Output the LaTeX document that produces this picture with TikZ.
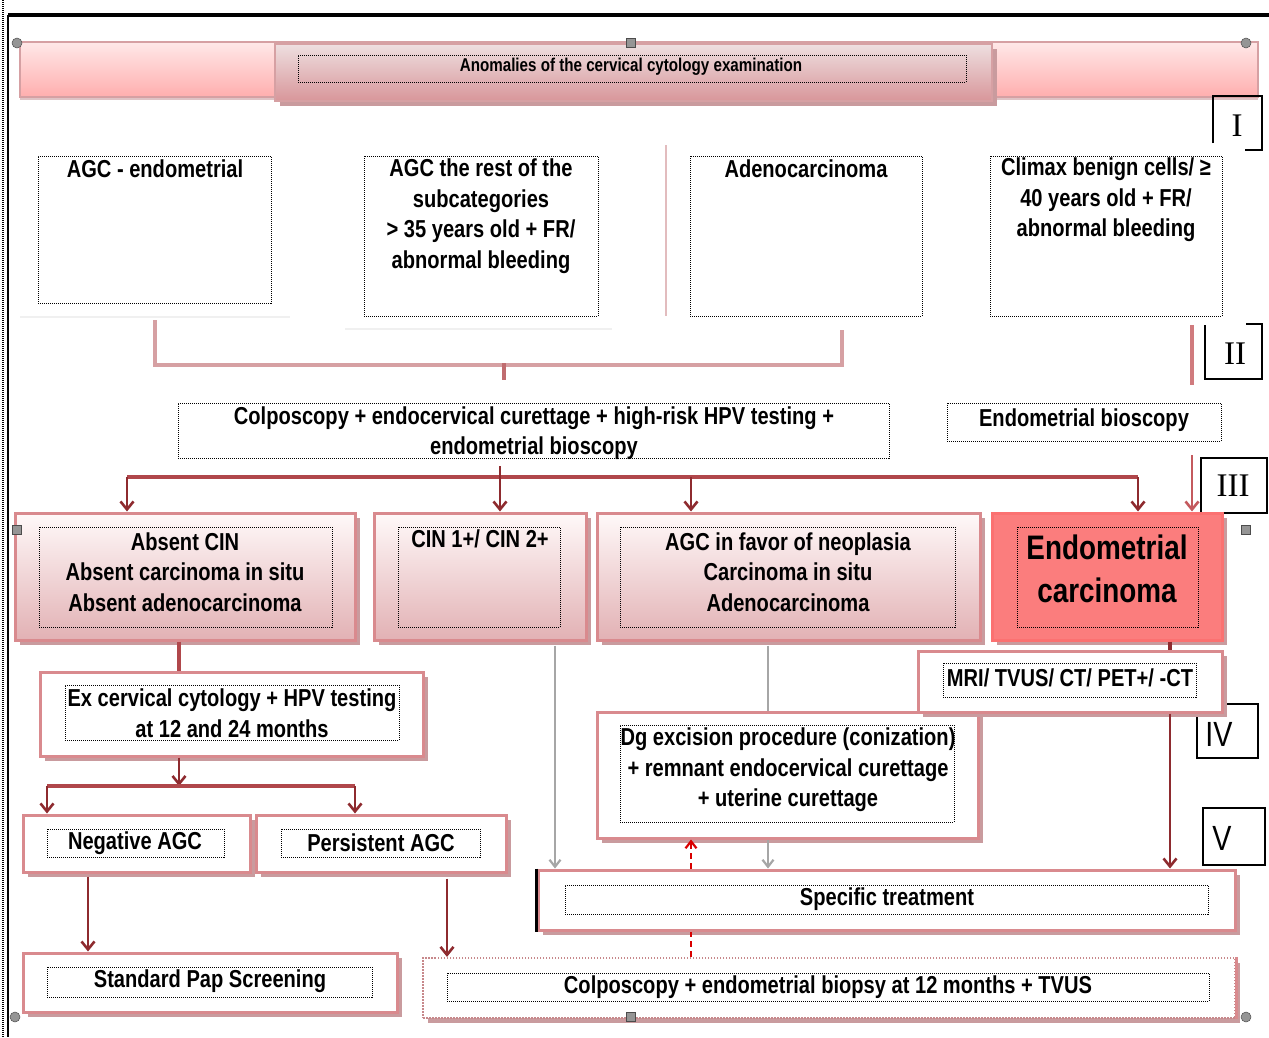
\documentclass[tikz,border=0pt]{standalone}
\usepackage{fontspec}
\setmainfont{Liberation Sans}
\newfontfamily\nf[FakeStretch=0.82]{Liberation Sans}
\newfontfamily\romf{Liberation Serif}
\usetikzlibrary{arrows.meta,fit}
\definecolor{dred}{HTML}{8E2B2F}
\definecolor{hred}{HTML}{B0474B}
\definecolor{lred}{HTML}{C45A5E}
\definecolor{bordc}{HTML}{D98A8E}
\definecolor{pinkl}{HTML}{D6A0A3}
\definecolor{shadc}{HTML}{C99B9E}
\definecolor{gtop}{HTML}{FFF9F9}
\definecolor{gbot}{HTML}{E2B1B4}
\definecolor{carc}{HTML}{FB7D7D}
\definecolor{handc}{HTML}{959595}
\definecolor{btop}{HTML}{FFE8E8}
\definecolor{bbot}{HTML}{FFAEAE}
\definecolor{mtop}{HTML}{EEDFE0}
\definecolor{mbot}{HTML}{D8969A}
\newcommand\ftA{\nf\bfseries\fontsize{24.5}{30.5}\selectfont}
\newcommand\ftH{\nf\bfseries\fontsize{18.5}{20}\selectfont}
\newcommand\ftC{\nf\bfseries\fontsize{34}{43}\selectfont}
\tikzset{
  x=1pt, y=-1pt,
  txt/.style={font=\ftA, align=center, inner sep=0pt, text=black},
  dotbox/.style={draw=black, dash pattern=on 1pt off 1pt, line width=1pt, inner sep=0pt},
  shad/.style={preaction={draw=none, fill=shadc, transform canvas={xshift=5pt, yshift=-5pt}}},
  pbox/.style={shad, draw=bordc, line width=3pt, top color=gtop, bottom color=gbot, inner sep=0pt},
  wbox/.style={shad, draw=bordc, line width=3pt, fill=white, inner sep=0pt},
  cbox/.style={shad, draw=carc!90!red, line width=3pt, fill=carc, inner sep=0pt},
  rline/.style={draw=hred, line width=3.6pt},
  rarr/.style={draw=dred, line width=2.6pt, -{Straight Barb[length=8pt,width=13pt,line width=2.6pt]}},
  garr/.style={draw=gray!70, line width=2.4pt, -{Straight Barb[length=7pt,width=11pt,line width=2.2pt]}},
  gline/.style={draw=gray!70, line width=2.4pt},
  darr/.style={draw=red!85!black, line width=2.6pt, dash pattern=on 6pt off 4pt},
  pline/.style={draw=pinkl, line width=3.4pt},
  hcirc/.style={circle, fill=handc, draw=gray!60!black, line width=0.5pt, minimum size=10pt, inner sep=0pt},
  hsq/.style={rectangle, fill=handc, draw=gray!60!black, line width=0.5pt, minimum size=9pt, inner sep=0pt},
  numbox/.style={draw=black, line width=2.2pt},
}
\begin{document}
\begin{tikzpicture}
\useasboundingbox (0,0) rectangle (1269,1037);
% outer frame
\draw[black, line width=3.8pt] (8,15) -- (1269,15);
\draw[black, line width=2.8pt] (8,15) -- (8,1037);
\draw[black, dash pattern=on 1pt off 1pt, line width=1.2pt] (3,0) -- (3,1037);

% header banner
\node[fit={(20,42)(1258,97)}, inner sep=0pt, preaction={draw=none, fill=shadc!60, transform canvas={yshift=-3pt}},
      draw=pinkl, line width=2.5pt, top color=btop, bottom color=bbot] (banner) {};
\node[fit={(275,44)(992,101)}, inner sep=0pt, shad, draw=pinkl, line width=2.5pt,
      top color=mtop, bottom color=mbot] (hmid) {};
\node[fit={(298,55)(966,82)}, dotbox] (hin) {};
\node[font=\ftH, inner sep=0pt] (htxt) at (631,67) {Anomalies of the cervical cytology examination};

% roman numerals
\draw[numbox] (1213,143) -- (1213,96) -- (1262,96) -- (1262,150) -- (1245,150);
\node[font=\romf\fontsize{33}{33}\selectfont, inner sep=0pt] (nI) at (1237,126) {I};
\draw[numbox] (1246,324) -- (1262,324) -- (1262,379) -- (1205,379) -- (1205,325);
\node[font=\romf\fontsize{33}{33}\selectfont, inner sep=0pt] (nII) at (1235,354) {II};
\node[numbox, fit={(1201,458)(1267,513)}, inner sep=0pt] (bIII) {};
\node[font=\romf\fontsize{33}{33}\selectfont, inner sep=0pt] (nIII) at (1233,486) {III};
\node[numbox, fit={(1197,704)(1258,758)}, inner sep=0pt] (bIV) {};
\node[font=\nf\fontsize{35}{35}\selectfont, inner sep=0pt] (nIV) at (1219,734) {IV};
\node[numbox, fit={(1203,808)(1265,865)}, inner sep=0pt] (bV) {};
\node[font=\nf\fontsize{35}{35}\selectfont, inner sep=0pt] (nV) at (1222,838) {V};

% top row
\node[fit={(38,156)(271,303)}, dotbox] (b1) {};
\node[txt, anchor=north] (t1) at (155,160) {AGC - endometrial};
\node[fit={(364,156)(598,316)}, dotbox] (b2) {};
\node[txt, anchor=north] (t2) at (481,159) {AGC the rest of the\\subcategories\\> 35 years old + FR/\\abnormal bleeding};
\node[fit={(690,156)(922,316)}, dotbox] (b3) {};
\node[txt, anchor=north] (t3) at (806,160) {Adenocarcinoma};
\node[fit={(990,156)(1222,316)}, dotbox] (b4) {};
\node[txt, anchor=north] (t4) at (1106,158) {Climax benign cells/ ≥\\40 years old + FR/\\abnormal bleeding};
\draw[gray!12, line width=1.5pt] (20,317) -- (290,317);
\draw[gray!12, line width=1.5pt] (345,329) -- (612,329);
\draw[pinkl!70, line width=1.8pt] (666,145) -- (666,316);

% pink bracket
\coordinate (k1) at (155,320);
\coordinate (k2) at (842,330);
\coordinate (k3) at (504,363);
\coordinate (k4) at (504,380);
\draw[pline] (k1) -- (155,365) -- (842,365) -- (k2);
\draw[pline, draw=hred!80] (k3) -- (k4);
\coordinate (k5) at (1192,325);
\coordinate (k6) at (1192,385);
\draw[pline, draw=lred!80] (k5) -- (k6);

% second row
\node[fit={(178,403)(889,458)}, dotbox] (colpo) {};
\node[txt] (tcolpo) at (534,433) {Colposcopy + endocervical curettage + high-risk HPV testing +\\endometrial bioscopy};
\node[fit={(947,403)(1221,441)}, dotbox] (endob) {};
\node[txt] (tendob) at (1084,420) {Endometrial bioscopy};

% result row
\node[fit={(15,513)(355,640)}, pbox] (r1) {};
\node[fit={(39,527)(332,627)}, dotbox] (r1i) {};
\node[txt] (tr1) at (185,572) {Absent CIN\\Absent carcinoma in situ\\Absent adenocarcinoma};
\node[fit={(374,513)(586,640)}, pbox] (r2) {};
\node[fit={(398,527)(560,627)}, dotbox] (r2i) {};
\node[txt, anchor=north] (tr2) at (480,530) {CIN 1+/ CIN 2+};
\node[fit={(597,513)(980,640)}, pbox] (r3) {};
\node[fit={(620,527)(955,627)}, dotbox] (r3i) {};
\node[txt] (tr3) at (788,572) {AGC in favor of neoplasia\\Carcinoma in situ\\Adenocarcinoma};
\node[fit={(992,513)(1222,640)}, cbox] (r4) {};
\node[fit={(1017,527)(1198,627)}, dotbox] (r4i) {};
\node[txt, font=\ftC] (tr4) at (1107,569) {Endometrial\\carcinoma};

% red arrows from colposcopy
\coordinate (h0) at (127,477);
\coordinate (h1) at (1138,477);
\draw[rline] (h0) -- (h1);
\draw[rarr] (h0) -- (r1.north -| h0);
\draw[rarr] (500,466) -- (r2.north -| 500,0);
\draw[rarr] (691,477) -- (r3.north -| 691,0);
\draw[rarr] (h1) -- (r4.north -| h1);
\coordinate (e1) at (1192,455);
\draw[rarr, draw=lred] (e1) -- (r4.north -| e1);

% left branch
\node[fit={(40,672)(423,756)}, wbox] (ex) {};
\node[fit={(65,685)(399,740)}, dotbox] (exi) {};
\node[txt] (tex) at (232,713) {Ex cervical cytology + HPV testing\\at 12 and 24 months};
\draw[rline] (r1.south -| 179,0) -- (ex.north -| 179,0);
\coordinate (s0) at (179,786);
\coordinate (s1) at (47,786);
\coordinate (s2) at (355,786);
\draw[rarr] (ex.south -| s0) -- (s0);
\draw[rline] (s1) -- (s2);
\node[fit={(23,815)(250,872)}, wbox] (neg) {};
\node[fit={(47,829)(224,857)}, dotbox] (negi) {};
\node[txt] (tneg) at (135,843) {Negative AGC};
\node[fit={(256,815)(506,872)}, wbox] (pers) {};
\node[fit={(281,829)(480,857)}, dotbox] (persi) {};
\node[txt] (tpers) at (381,843) {Persistent AGC};
\draw[rarr] (s1) -- (neg.north -| s1);
\draw[rarr] (s2) -- (pers.north -| s2);
\node[fit={(23,953)(397,1012)}, wbox] (pap) {};
\node[fit={(47,967)(372,997)}, dotbox] (papi) {};
\node[txt] (tpap) at (210,981) {Standard Pap Screening};
\draw[rarr] (neg.south -| 88,0) ++(0,3) -- (pap.north -| 88,0);
\node[fit={(423,958)(1235,1018)}, inner sep=0pt, shad, fill=white, draw=bordc!80!gray, line width=2.2pt, dash pattern=on 1.5pt off 1.5pt] (col2) {};
\draw[bordc, line width=3pt] (col2.north east) -- (col2.south east);
\node[fit={(447,973)(1209,1001)}, dotbox] (col2i) {};
\node[txt] (tcol2) at (828,987) {Colposcopy + endometrial biopsy at 12 months + TVUS};
\draw[rarr] (pers.south -| 447,0) ++(0,5) -- (col2.north -| 447,0);

% right branch
\node[fit={(597,712)(978,838)}, wbox] (dg) {};
\node[fit={(620,725)(954,822)}, dotbox] (dgi) {};
\node[txt] (tdg) at (788,770) {Dg excision procedure (conization)\\+ remnant endocervical curettage\\+ uterine curettage};
\node[fit={(918,651)(1222,712)}, wbox] (mri) {};
\node[fit={(943,663)(1196,697)}, dotbox] (mrii) {};
\node[txt] (tmri) at (1070,678) {MRI/ TVUS/ CT/ PET+/ -CT};
\node[fit={(538,870)(1235,930)}, wbox] (spec) {};
\draw[black, line width=2.2pt] (spec.north west) -- (spec.south west);
\node[fit={(565,885)(1208,914)}, dotbox] (speci) {};
\node[txt] (tspec) at (887,899) {Specific treatment};

\draw[rline, draw=dred] (r4.south -| 1170,0) -- (mri.north -| 1170,0);
\draw[rarr] (mri.south -| 1170,0) -- (spec.north -| 1170,0);
\draw[garr] (r2.south -| 555,0) ++(0,4) -- (spec.north -| 555,0);
\draw[gline] (r3.south -| 768,0) ++(0,4) -- (dg.north -| 768,0);
\draw[garr] (dg.south -| 768,0) -- (spec.north -| 768,0);
\draw[darr, -{Straight Barb[length=7pt,width=11pt,line width=2.2pt]}] (spec.north -| 691,0) -- (dg.south -| 691,0);
\draw[darr] (col2.north -| 691,0) -- (spec.south -| 691,0) ++(0,3);

% handles
\node[hcirc] (hc1) at (17,43) {};
\node[hsq] (hs1) at (631,43) {};
\node[hcirc] (hc2) at (1246,43) {};
\node[hsq] (hs2) at (17,530) {};
\node[hsq] (hs3) at (1246,530) {};
\node[hcirc] (hc3) at (15,1017) {};
\node[hsq] (hs4) at (631,1017) {};
\node[hcirc] (hc4) at (1246,1017) {};
\end{tikzpicture}
\end{document}
